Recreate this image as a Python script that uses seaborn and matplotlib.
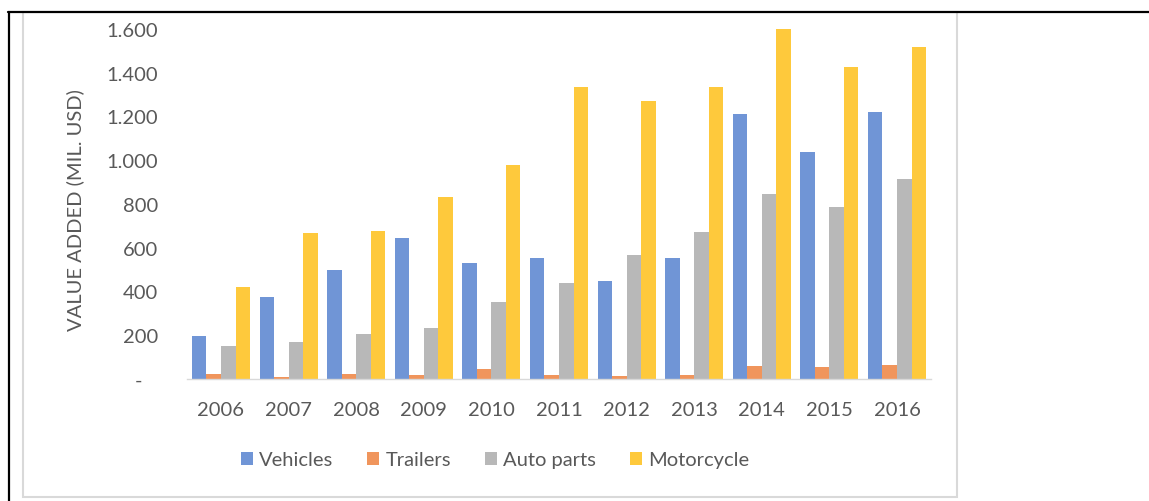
import matplotlib
matplotlib.use("Agg")
import matplotlib.pyplot as plt
from matplotlib.patches import Rectangle
from matplotlib.lines import Line2D
from matplotlib.ticker import FuncFormatter
import seaborn as sns
import pandas as pd

years = ["2006", "2007", "2008", "2009", "2010", "2011", "2012", "2013", "2014", "2015", "2016"]
vehicles = [198, 373, 498, 643, 532, 555, 447, 555, 1212, 1037, 1219]
trailers = [25, 10, 22, 20, 45, 20, 14, 20, 60, 56, 65]
auto_parts = [152, 168, 206, 233, 350, 439, 567, 672, 846, 785, 914]
motorcycle = [419, 667, 675, 833, 980, 1333, 1272, 1333, 1603, 1425, 1519]
series_names = ["Vehicles", "Trailers", "Auto parts", "Motorcycle"]
series_colors = ["#7095d6", "#f0955c", "#b8b8b8", "#fec93c"]

rows = []
for name, vals in zip(series_names, [vehicles, trailers, auto_parts, motorcycle]):
    for y, v in zip(years, vals):
        rows.append({"Year": y, "Series": name, "Value": v})
df = pd.DataFrame(rows)

sns.set_style("white")
plt.rcParams["font.family"] = ["Lato", "DejaVu Sans"]
text_color = "#595959"
fs = 14.5

fig = plt.figure(figsize=(11.49, 5.02), dpi=100)
W, H = 1149, 502

# chart panel outline and outer frame
fig.patches.append(Rectangle((23 / W, 1 - 498 / H), (957 - 23) / W, (498 - 13) / H,
                             transform=fig.transFigure, fill=False,
                             edgecolor="#d9d9d9", linewidth=1.5, zorder=0))
fig.lines.append(Line2D([8 / W, 1.0], [1 - 13 / H, 1 - 13 / H], transform=fig.transFigure,
                        color="black", linewidth=1.6))
fig.lines.append(Line2D([9 / W, 9 / W], [0, 1 - 13 / H], transform=fig.transFigure,
                        color="black", linewidth=1.6))

ax = fig.add_axes([187.2 / W, 1 - 380 / H, 743.6 / W, 350 / H])
sns.barplot(data=df, x="Year", y="Value", hue="Series", hue_order=series_names,
            palette=series_colors, width=0.86, gap=0, saturation=1,
            edgecolor="none", linewidth=0, ax=ax, legend=False)

ax.set_xlim(-0.5, len(years) - 0.5)
ax.set_ylim(0, 1600)
ax.set_yticks(range(0, 1601, 200))


def fmt(v, pos):
    if v == 0:
        return "-   "
    return f"{v:,.0f}".replace(",", ".")


ax.yaxis.set_major_formatter(FuncFormatter(fmt))
ax.tick_params(axis="y", length=0, pad=21, labelsize=fs, labelcolor=text_color)
ax.tick_params(axis="x", length=0, pad=16, labelsize=fs, labelcolor=text_color)
for s in ["top", "right", "left"]:
    ax.spines[s].set_visible(False)
ax.spines["bottom"].set_color("#d9d9d9")
ax.spines["bottom"].set_linewidth(1.0)
ax.set_xlabel("")
ax.set_ylabel("")
ax.patch.set_alpha(0)

fig.text(75 / W, 1 - 210 / H, "VALUE ADDED (MIL. USD)", rotation=90,
         ha="center", va="center", fontsize=fs, color=text_color)

handles = [Rectangle((0, 0), 1, 1, facecolor=c, edgecolor="none") for c in series_colors]
leg = fig.legend(handles, series_names, loc="center", ncol=4, frameon=False,
                 bbox_to_anchor=(495 / W, 1 - 461 / H), fontsize=fs,
                 handlelength=0.6, handleheight=0.6, handletextpad=0.3,
                 columnspacing=1.7)
for t in leg.get_texts():
    t.set_color(text_color)

fig.savefig("out.png", dpi=100, facecolor="white")
